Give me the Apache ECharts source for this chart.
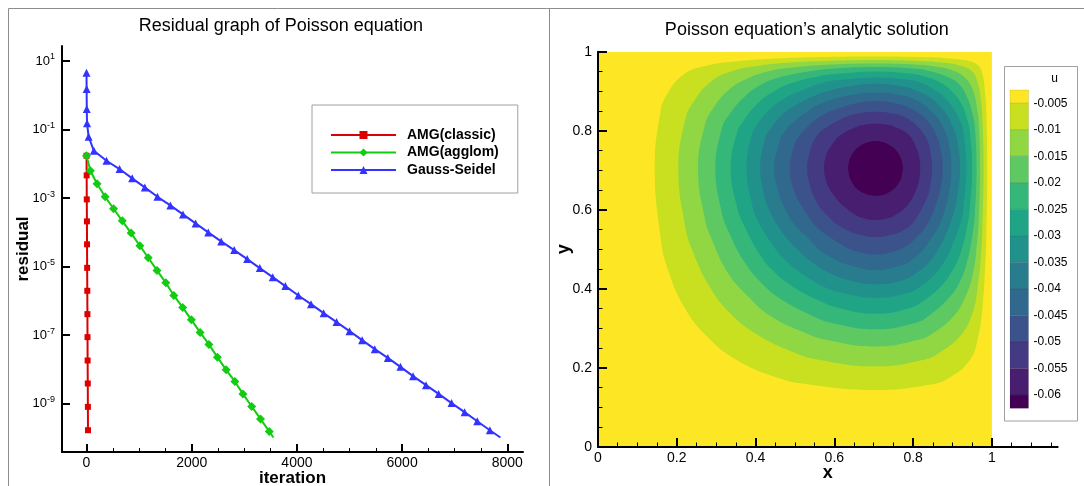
<!DOCTYPE html>
<html><head><meta charset="utf-8">
<script src="https://cdn.jsdelivr.net/npm/echarts@6/dist/echarts.min.js"></script>
<style>html,body{margin:0;padding:0;background:#fff}#c{width:1084px;height:486px}</style>
</head><body><div id="c"></div>
<script>
const FONT = '"Liberation Sans", Arial, Helvetica, sans-serif';

// ---------- Left chart: residual history ----------
const classicIter = [0, 3, 5, 8, 10, 12, 15, 17, 19, 21, 24, 26, 28];
const classicRes = [1.72e-2, 4.60e-3, 9.16e-4, 2.09e-4, 4.47e-5, 9.23e-6, 1.97e-6, 4.10e-7, 8.75e-8, 1.82e-8, 3.89e-9, 8.07e-10, 1.68e-10];

const agglomIter = [0, 74, 200, 354, 514, 680, 848, 1014, 1174, 1340, 1508, 1660, 1828, 1994, 2160, 2328, 2488, 2654, 2820, 2974, 3140, 3308, 3474, 3554];
const agglomRes = [1.72e-2, 6.27e-3, 2.62e-3, 1.09e-3, 4.88e-4, 2.17e-4, 9.51e-5, 4.05e-5, 1.81e-5, 7.74e-6, 3.37e-6, 1.44e-6, 6.44e-7, 2.80e-7, 1.20e-7, 5.35e-8, 2.28e-8, 9.70e-9, 4.45e-9, 1.93e-9, 8.28e-10, 3.60e-10, 1.54e-10, 1.03e-10];

const gsIter = [0, 2, 5, 10, 40, 140, 380, 628, 868, 1108, 1348, 1594, 1834, 2074, 2314, 2560, 2808, 3054, 3294, 3540, 3780, 4028, 4268, 4508, 4754, 5000, 5240, 5480, 5728, 5968, 6208, 6454, 6694, 6940, 7188, 7428, 7668, 7868];
const gsRes = [4.55, 1.52, 0.397, 0.152, 6.17e-2, 2.40e-2, 1.23e-2, 7.03e-3, 3.76e-3, 2.05e-3, 1.09e-3, 6.12e-4, 3.34e-4, 1.82e-4, 9.95e-5, 5.44e-5, 3.03e-5, 1.66e-5, 9.04e-6, 4.93e-6, 2.70e-6, 1.44e-6, 8.04e-7, 4.39e-7, 2.40e-7, 1.31e-7, 7.14e-8, 3.90e-8, 2.17e-8, 1.19e-8, 6.35e-9, 3.47e-9, 1.93e-9, 1.04e-9, 5.65e-10, 3.08e-10, 1.68e-10, 1.03e-10];

const iterTicks = [0, 2000, 4000, 6000, 8000];
const iterMinorTicks = [500, 1000, 1500, 2500, 3000, 3500, 4500, 5000, 5500, 6500, 7000, 7500];
const residualTicks = [10, 0.1, 1e-3, 1e-5, 1e-7, 1e-9];
const seriesNames = ['AMG(classic)', 'AMG(agglom)', 'Gauss-Seidel'];

// ---------- Right chart: contour field (outlines) ----------
const domain = [[0, 0], [1, 0], [1, 1], [0, 1]];
const contour1 = [[.144,.705],[.158,.536],[.175,.456],[.220,.352],[.278,.278],[.352,.220],[.456,.175],[.536,.158],[.705,.144],[.845,.158],[.892,.175],[.944,.220],[.965,.278],[.976,.352],[.983,.456],[.986,.536],[.988,.705],[.986,.845],[.983,.892],[.976,.944],[.965,.965],[.944,.976],[.892,.983],[.845,.986],[.705,.988],[.536,.986],[.456,.983],[.352,.976],[.278,.965],[.220,.944],[.175,.892],[.158,.845]];
const contour2 = [[.204,.705],[.221,.560],[.240,.496],[.284,.405],[.337,.337],[.405,.284],[.496,.240],[.560,.221],[.705,.204],[.827,.221],[.869,.240],[.922,.284],[.950,.337],[.964,.405],[.973,.496],[.976,.560],[.979,.705],[.976,.827],[.973,.869],[.964,.922],[.950,.950],[.922,.964],[.869,.973],[.827,.976],[.705,.979],[.560,.976],[.496,.973],[.405,.964],[.337,.950],[.284,.922],[.240,.869],[.221,.827]];
const contour3 = [[.254,.705],[.271,.579],[.289,.525],[.330,.440],[.381,.381],[.440,.330],[.525,.289],[.579,.271],[.705,.254],[.814,.271],[.852,.289],[.902,.330],[.933,.381],[.952,.440],[.963,.525],[.967,.579],[.970,.705],[.967,.814],[.963,.852],[.952,.902],[.933,.933],[.902,.952],[.852,.963],[.814,.967],[.705,.970],[.579,.967],[.525,.963],[.440,.952],[.381,.933],[.330,.902],[.289,.852],[.271,.814]];
const contour4 = [[.298,.705],[.314,.594],[.331,.546],[.371,.469],[.415,.415],[.469,.371],[.546,.331],[.594,.314],[.705,.298],[.805,.314],[.838,.331],[.885,.371],[.917,.415],[.937,.469],[.952,.546],[.957,.594],[.961,.705],[.957,.805],[.952,.838],[.937,.885],[.917,.917],[.885,.937],[.838,.952],[.805,.957],[.705,.961],[.594,.957],[.546,.952],[.469,.937],[.415,.917],[.371,.885],[.331,.838],[.314,.805]];
const contour5 = [[.337,.705],[.353,.607],[.370,.562],[.405,.496],[.445,.445],[.496,.405],[.562,.370],[.607,.353],[.705,.337],[.796,.353],[.826,.370],[.869,.405],[.899,.445],[.922,.496],[.938,.562],[.944,.607],[.950,.705],[.944,.796],[.938,.826],[.922,.869],[.899,.899],[.869,.922],[.826,.938],[.796,.944],[.705,.950],[.607,.944],[.562,.938],[.496,.922],[.445,.899],[.405,.869],[.370,.826],[.353,.796]];
const contour6 = [[.377,.705],[.390,.619],[.404,.576],[.436,.522],[.474,.474],[.522,.436],[.576,.404],[.619,.390],[.705,.377],[.788,.390],[.816,.404],[.854,.436],[.882,.474],[.904,.522],[.923,.576],[.929,.619],[.935,.705],[.929,.788],[.923,.816],[.904,.854],[.882,.882],[.854,.904],[.816,.923],[.788,.929],[.705,.935],[.619,.929],[.576,.923],[.522,.904],[.474,.882],[.436,.854],[.404,.816],[.390,.788]];
const contour7 = [[.412,.705],[.424,.629],[.438,.593],[.467,.544],[.503,.503],[.544,.467],[.593,.438],[.629,.424],[.705,.412],[.780,.424],[.805,.438],[.840,.467],[.865,.503],[.886,.544],[.903,.593],[.911,.629],[.919,.705],[.911,.780],[.903,.805],[.886,.840],[.865,.865],[.840,.886],[.805,.903],[.780,.911],[.705,.919],[.629,.911],[.593,.903],[.544,.886],[.503,.865],[.467,.840],[.438,.805],[.424,.780]];
const contour8 = [[.448,.705],[.460,.638],[.472,.608],[.499,.562],[.531,.531],[.562,.499],[.608,.472],[.638,.460],[.705,.448],[.771,.460],[.795,.472],[.825,.499],[.848,.531],[.867,.562],[.883,.608],[.890,.638],[.897,.705],[.890,.771],[.883,.795],[.867,.825],[.848,.848],[.825,.867],[.795,.883],[.771,.890],[.705,.897],[.638,.890],[.608,.883],[.562,.867],[.531,.848],[.499,.825],[.472,.795],[.460,.771]];
const contour9 = [[.487,.705],[.498,.647],[.509,.623],[.533,.585],[.556,.556],[.585,.533],[.623,.509],[.647,.498],[.705,.487],[.762,.498],[.784,.509],[.811,.533],[.831,.556],[.847,.585],[.861,.623],[.868,.647],[.875,.705],[.868,.762],[.861,.784],[.847,.811],[.831,.831],[.811,.847],[.784,.861],[.762,.868],[.705,.875],[.647,.868],[.623,.861],[.585,.847],[.556,.831],[.533,.811],[.509,.784],[.498,.762]];
const contour10 = [[.531,.705],[.539,.658],[.546,.638],[.562,.608],[.584,.584],[.608,.562],[.638,.546],[.658,.539],[.705,.531],[.752,.539],[.771,.546],[.795,.562],[.811,.584],[.825,.608],[.838,.638],[.843,.658],[.848,.705],[.843,.752],[.838,.771],[.825,.795],[.811,.811],[.795,.825],[.771,.838],[.752,.843],[.705,.848],[.658,.843],[.638,.838],[.608,.825],[.584,.811],[.562,.795],[.546,.771],[.539,.752]];
const contour11 = [[.574,.705],[.580,.669],[.587,.654],[.601,.634],[.616,.616],[.634,.601],[.654,.587],[.669,.580],[.705,.574],[.741,.580],[.755,.587],[.775,.601],[.789,.616],[.800,.634],[.809,.654],[.814,.669],[.818,.705],[.814,.741],[.809,.755],[.800,.775],[.789,.789],[.775,.800],[.755,.809],[.741,.814],[.705,.818],[.669,.814],[.654,.809],[.634,.800],[.616,.789],[.601,.775],[.587,.755],[.580,.741]];
const contour12 = [[.635,.705],[.638,.685],[.641,.676],[.648,.664],[.655,.655],[.664,.648],[.676,.641],[.685,.638],[.705,.635],[.725,.638],[.733,.641],[.745,.648],[.754,.655],[.761,.664],[.768,.676],[.771,.685],[.774,.705],[.771,.725],[.768,.733],[.761,.745],[.754,.754],[.745,.761],[.733,.768],[.725,.771],[.705,.774],[.685,.771],[.676,.768],[.664,.761],[.655,.754],[.648,.745],[.641,.733],[.638,.725]];

const contourLevels = [-0.005, -0.01, -0.015, -0.02, -0.025, -0.03, -0.035, -0.04, -0.045, -0.05, -0.055, -0.06];
const colorbarEdges = [-0.0025, -0.005, -0.01, -0.015, -0.02, -0.025, -0.03, -0.035, -0.04, -0.045, -0.05, -0.055, -0.06, -0.0625];
const bandColors = ['#fde725', '#c8e020', '#90d743', '#5ec962', '#35b779', '#20a486', '#21918c', '#287c8e', '#31688e', '#3b528b', '#443983', '#481f70', '#440154'];
const xTicks2 = [0, 0.2, 0.4, 0.6, 0.8, 1];
const xMinorTicks2 = [0.05, 0.1, 0.15, 0.25, 0.3, 0.35, 0.45, 0.5, 0.55, 0.65, 0.7, 0.75, 0.85, 0.9, 0.95, 1.05, 1.1, 1.15];

const fieldPolys = [domain, contour1, contour2, contour3, contour4, contour5, contour6, contour7, contour8, contour9, contour10, contour11, contour12];

function pairs(xs, ys, lastBare) {
  return xs.map((x, i) => (lastBare && i === xs.length - 1) ? {value: [x, ys[i]], symbol: 'none'} : [x, ys[i]]);
}

const chart = echarts.init(document.getElementById('c'), null, {renderer: 'canvas'});
const black = '#000';
const option = {
  animation: false,
  backgroundColor: '#fff',
  textStyle: {fontFamily: FONT},
  grid: [
    {left: 62, top: 46, width: 461, height: 406, outerBoundsMode: 'none', containLabel: false},
    {left: 598, top: 51.7, width: 459.7, height: 395.3, outerBoundsMode: 'none', containLabel: false},
    {left: 1010, top: 90, width: 18.5, height: 318.3, outerBoundsMode: 'none', containLabel: false}
  ],
  legend: {
    data: seriesNames,
    orient: 'vertical',
    left: 312, top: 105,
    padding: [22, 19, 15, 18],
    backgroundColor: '#fff',
    borderColor: '#a0a0a0', borderWidth: 1,
    itemWidth: 65, itemHeight: 10, itemGap: 1.5,
    textStyle: {fontFamily: FONT, fontSize: 14, fontWeight: 'bold', color: black, lineHeight: 16, padding: [0, 0, 0, 6]}
  },
  xAxis: [
    {gridIndex: 0, type: 'value', min: -466, max: 8298,
     name: 'iteration', nameLocation: 'middle', nameGap: 18, nameMoveOverlap: false,
     nameTextStyle: {fontSize: 17, fontWeight: 'bold', color: black, fontFamily: FONT},
     axisLine: {show: true, onZero: false, lineStyle: {color: black, width: 2}},
     axisTick: {show: true, inside: true, length: 8, customValues: iterTicks, lineStyle: {color: black, width: 2}},
     axisLabel: {customValues: iterTicks, fontSize: 14, color: black, margin: 4, formatter: v => String(Math.round(v))},
     splitLine: {show: false}},
    {gridIndex: 0, type: 'value', position: 'bottom', min: -466, max: 8298,
     axisLine: {show: false, onZero: false},
     axisTick: {show: true, inside: true, length: 4, customValues: iterMinorTicks, lineStyle: {color: black, width: 1}},
     axisLabel: {show: false}, splitLine: {show: false}},
    {gridIndex: 1, type: 'value', min: 0, max: 1.167, z: 10,
     name: 'x', nameLocation: 'middle', nameGap: 17, nameMoveOverlap: false,
     nameTextStyle: {fontSize: 18, fontWeight: 'bold', color: black, fontFamily: FONT},
     axisLine: {show: true, onZero: false, lineStyle: {color: black, width: 2}},
     axisTick: {show: true, inside: true, length: 9, customValues: xTicks2, lineStyle: {color: black, width: 2}},
     axisLabel: {customValues: xTicks2, fontSize: 14, color: black, margin: 4, formatter: v => String(+(+v).toFixed(3))},
     splitLine: {show: false}},
    {gridIndex: 1, type: 'value', position: 'bottom', min: 0, max: 1.167, z: 10,
     axisLine: {show: false, onZero: false},
     axisTick: {show: true, inside: true, length: 4.5, customValues: xMinorTicks2, lineStyle: {color: black, width: 1}},
     axisLabel: {show: false}, splitLine: {show: false}},
    {gridIndex: 2, type: 'value', min: 0, max: 1, show: false}
  ],
  yAxis: [
    {gridIndex: 0, type: 'log', logBase: 10, min: Math.pow(10, -10.41), max: Math.pow(10, 1.438),
     name: 'residual', nameLocation: 'middle', nameGap: 30, nameRotate: 90, nameMoveOverlap: false,
     nameTextStyle: {fontSize: 17, fontWeight: 'bold', color: black, fontFamily: FONT},
     axisLine: {show: true, onZero: false, lineStyle: {color: black, width: 2}},
     axisTick: {show: true, inside: true, length: 8, customValues: residualTicks, lineStyle: {color: black, width: 2}},
     axisLabel: {customValues: residualTicks, margin: 7, color: black,
       formatter: v => '{b|10}{s|' + Math.round(Math.log10(v)) + '}',
       rich: {b: {fontSize: 13, lineHeight: 17, color: black, fontFamily: FONT},
              s: {fontSize: 9, lineHeight: 10, verticalAlign: 'top', color: black, fontFamily: FONT}}},
     minorTick: {show: false}, splitLine: {show: false}},
    {gridIndex: 1, type: 'value', min: 0, max: 1, interval: 0.2, z: 10,
     name: 'y', nameLocation: 'middle', nameGap: 25, nameRotate: 90, nameMoveOverlap: false,
     nameTextStyle: {fontSize: 18, fontWeight: 'bold', color: black, fontFamily: FONT},
     axisLine: {show: true, onZero: false, lineStyle: {color: black, width: 2}},
     axisTick: {show: true, inside: true, length: 9, lineStyle: {color: black, width: 2}},
     minorTick: {show: true, splitNumber: 4, length: 4.5, lineStyle: {color: black, width: 1}},
     axisLabel: {fontSize: 14, color: black, margin: 6},
     splitLine: {show: false}, minorSplitLine: {show: false}},
    {gridIndex: 2, type: 'value', min: -0.0625, max: -0.0025, position: 'right',
     axisLine: {show: false}, axisTick: {show: false}, splitLine: {show: false},
     axisLabel: {customValues: contourLevels, fontSize: 12, color: black, margin: 5, padding: [7, 0, 0, 0],
       formatter: v => String(+(+v).toFixed(4))}}
  ],
  series: [
    {name: seriesNames[0], type: 'line', xAxisIndex: 0, yAxisIndex: 0,
     data: pairs(classicIter, classicRes, false),
     symbol: 'rect', symbolSize: 6, color: '#dd0000',
     lineStyle: {width: 2, color: '#dd0000'}, itemStyle: {color: '#dd0000'}},
    {name: seriesNames[1], type: 'line', xAxisIndex: 0, yAxisIndex: 0,
     data: pairs(agglomIter, agglomRes, true),
     symbol: 'diamond', symbolSize: 9, color: '#11cc11',
     lineStyle: {width: 2, color: '#11cc11'}, itemStyle: {color: '#11cc11'}},
    {name: seriesNames[2], type: 'line', xAxisIndex: 0, yAxisIndex: 0,
     data: pairs(gsIter, gsRes, true),
     symbol: 'triangle', symbolSize: 8, color: '#3333ff',
     lineStyle: {width: 2, color: '#3333ff'}, itemStyle: {color: '#3333ff'}},
    {name: 'u', type: 'custom', xAxisIndex: 2, yAxisIndex: 1, silent: true, clip: true,
     encode: {x: 0, y: 1},
     data: fieldPolys.map(p => p[0]),
     renderItem: function (params, api) {
       const idx = params.dataIndex;
       const pts = fieldPolys[idx].map(p => api.coord(p));
       return {type: 'polygon', shape: {points: pts, smooth: idx === 0 ? 0 : 0.45},
               style: {fill: bandColors[idx], stroke: null}};
     }},
    {name: 'colorbar', type: 'custom', xAxisIndex: 4, yAxisIndex: 2, silent: true,
     encode: {x: 0, y: [1, 2]},
     data: bandColors.map((c, i) => [0, colorbarEdges[i + 1], colorbarEdges[i]]),
     renderItem: function (params, api) {
       const p1 = api.coord([0, api.value(2)]);
       const p2 = api.coord([1, api.value(1)]);
       return {type: 'rect', shape: {x: p1[0], y: p1[1], width: p2[0] - p1[0], height: p2[1] - p1[1]},
               style: {fill: bandColors[params.dataIndex], stroke: 'rgba(0,0,0,0.18)', lineWidth: 0.6}};
     }}
  ],
  graphic: [
    {type: 'line', shape: {x1: 8.5, y1: 8.5, x2: 1084, y2: 8.5}, style: {stroke: '#8c8c8c', lineWidth: 1}, silent: true},
    {type: 'line', shape: {x1: 8.5, y1: 8.5, x2: 8.5, y2: 486}, style: {stroke: '#8c8c8c', lineWidth: 1}, silent: true},
    {type: 'line', shape: {x1: 549.5, y1: 8.5, x2: 549.5, y2: 486}, style: {stroke: '#8c8c8c', lineWidth: 1}, silent: true},
    {type: 'rect', shape: {x: 1004.5, y: 66.5, width: 73, height: 354.5}, style: {fill: 'none', stroke: '#a0a0a0', lineWidth: 1}, silent: true},
    {type: 'text', x: 280.8, y: 26, style: {text: 'Residual graph of Poisson equation', font: '18px ' + FONT, fill: black, textAlign: 'center', textVerticalAlign: 'middle'}, silent: true},
    {type: 'text', x: 806.8, y: 30, style: {text: 'Poisson equation\u2019s analytic solution', font: '18px ' + FONT, fill: black, textAlign: 'center', textVerticalAlign: 'middle'}, silent: true},
    {type: 'text', x: 1054.5, y: 79, style: {text: 'u', font: '12px ' + FONT, fill: black, textAlign: 'center', textVerticalAlign: 'middle'}, silent: true}
  ]
};
chart.setOption(option);
</script>
</body></html>
